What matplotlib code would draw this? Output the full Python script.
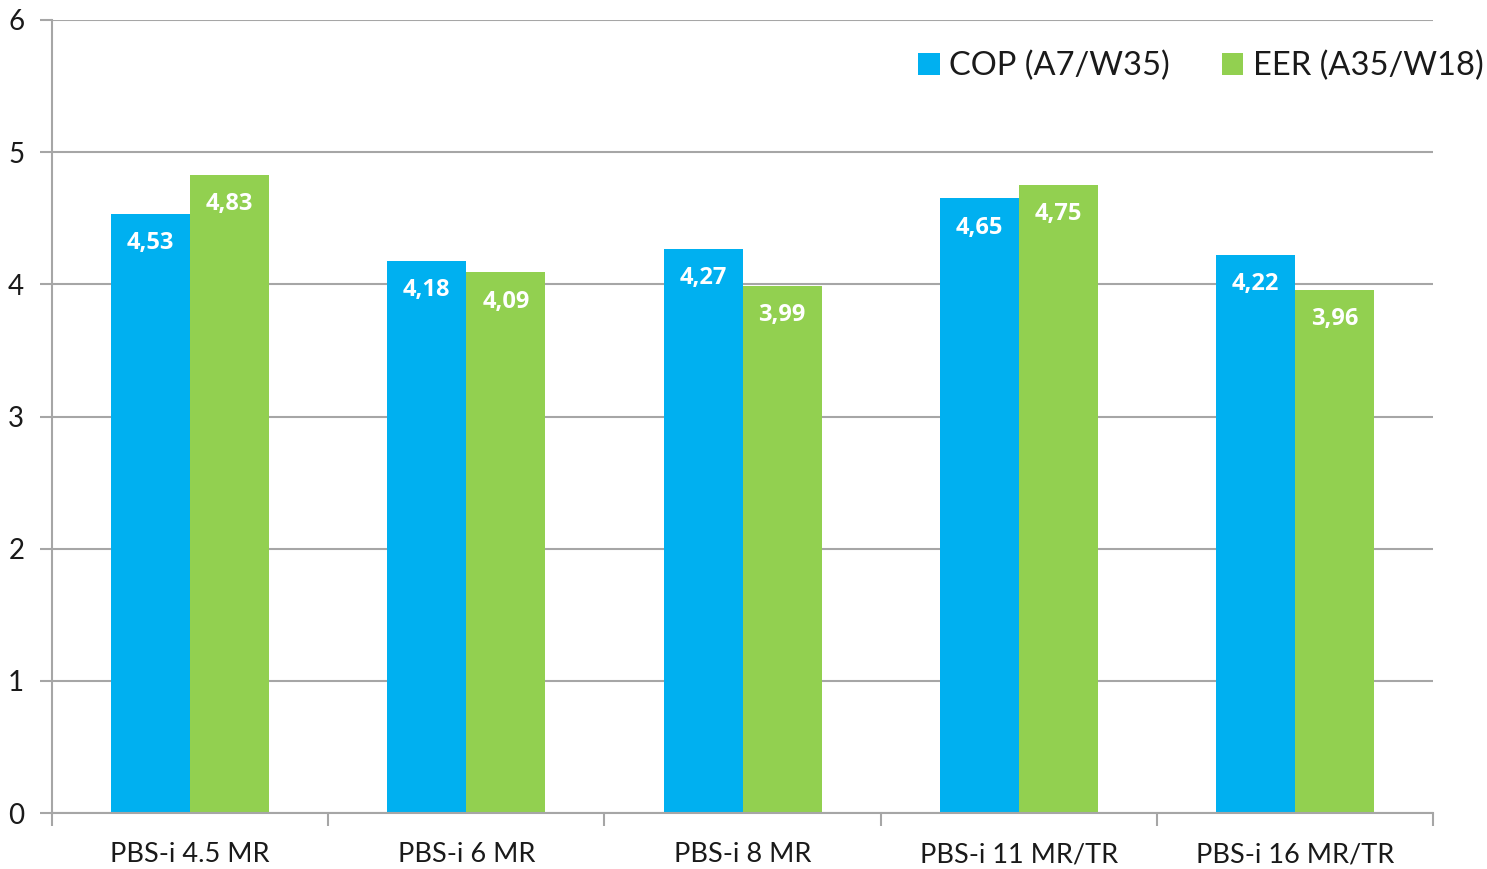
import matplotlib.pyplot as plt
import numpy as np

models = ["PBS-i 4.5 MR", "PBS-i 6 MR", "PBS-i 8 MR", "PBS-i 11 MR/TR", "PBS-i 16 MR/TR"]
cop = [4.53, 4.18, 4.27, 4.65, 4.22]
eer = [4.83, 4.09, 3.99, 4.75, 3.96]
series_names = ["COP (A7/W35)", "EER (A35/W18)"]
yticks = [0, 1, 2, 3, 4, 5, 6]

plt.rcParams['font.family'] = ['Lato', 'DejaVu Sans']

fig = plt.figure(figsize=(14.87, 8.69), dpi=100)
ax = fig.add_axes([0.035, 0.0644, 0.9287, 0.9126])

x = np.arange(len(models))
w = 0.286
b1 = ax.bar(x - w / 2, cop, w, color='#00B0F0', label=series_names[0], zorder=3)
b2 = ax.bar(x + w / 2, eer, w, color='#92D050', label=series_names[1], zorder=3)

for bars, vals in [(b1, cop), (b2, eer)]:
    for bar, v in zip(bars, vals):
        ax.annotate(f"{v:.2f}".replace(".", ","),
                    (bar.get_x() + bar.get_width() / 2, v),
                    xytext=(0, -21), textcoords='offset points',
                    ha='center', va='center', color='white',
                    fontsize=17, fontweight='bold', family='Open Sans', zorder=4)

ax.set_xlim(-0.5, len(models) - 0.5)
ax.set_ylim(0, 6)
ax.set_yticks(yticks)
ax.set_yticklabels([str(t) for t in yticks])
ax.yaxis.grid(True, color='#a6a6a6', linewidth=1.5, zorder=0)

# category labels centred, tick marks on the boundaries
ax.set_xticks(x)
ax.set_xticklabels(models)
ax.tick_params(axis='x', length=0, pad=21, labelsize=19.5, labelcolor='#1a1a1a')
ax.set_xticks(np.arange(-0.5, len(models)), minor=True)
ax.tick_params(axis='x', which='minor', length=9, width=1.5, color='#a6a6a6')
ax.tick_params(axis='y', length=9, width=1.5, color='#a6a6a6', pad=11,
               labelsize=20, labelcolor='#1a1a1a')

for s in ['top', 'right']:
    ax.spines[s].set_visible(False)
for s in ['left', 'bottom']:
    ax.spines[s].set_color('#a6a6a6')
    ax.spines[s].set_linewidth(1.5)
ax.spines['bottom'].set_zorder(5)

ax.legend(loc='center right', bbox_to_anchor=(0.998, 0.924), bbox_transform=fig.transFigure,
          ncol=2, frameon=False, fontsize=23.5, handlelength=0.65, handleheight=0.65,
          handletextpad=0.3, columnspacing=1.6, borderaxespad=0, borderpad=0,
          labelcolor='#1a1a1a')

fig.savefig("out.png", dpi=100)
